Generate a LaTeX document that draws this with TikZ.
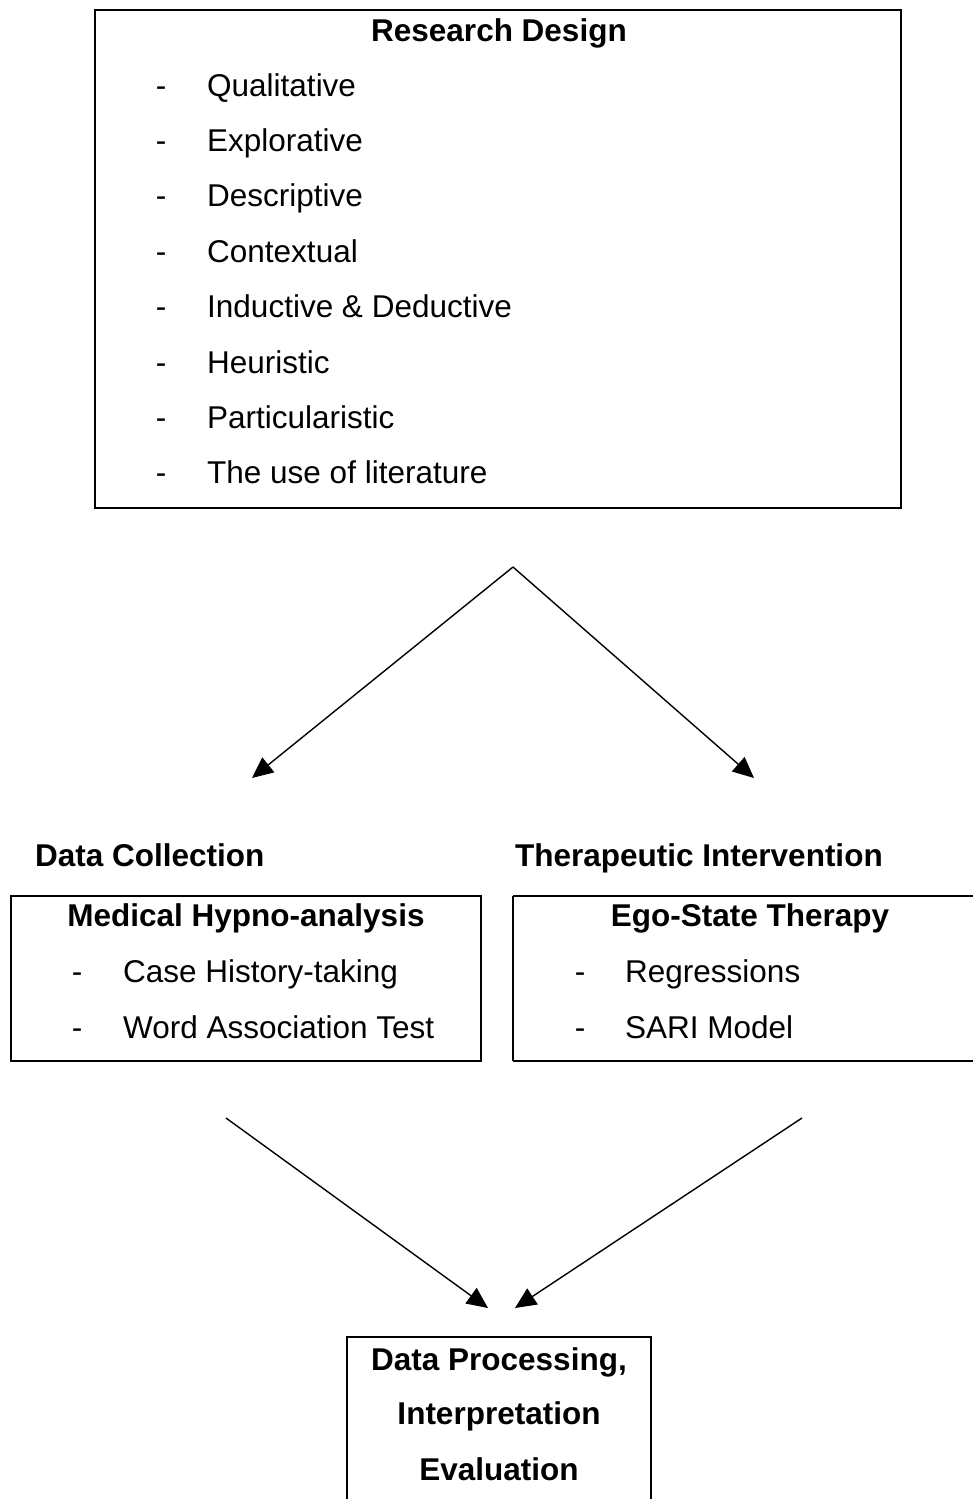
\documentclass[tikz,border=0pt]{standalone}
\usepackage{fontspec}
\setmainfont{Liberation Sans}
\usetikzlibrary{arrows.meta}
\begin{document}
\begin{tikzpicture}[x=1pt,y=-1pt,
  txt/.style={font=\fontsize{31.5}{38}\selectfont, inner sep=0pt, anchor=base west},
  ttl/.style={font=\fontsize{31.5}{38}\selectfont\bfseries, inner sep=0pt, anchor=base},
  dsh/.style={font=\fontsize{31.5}{38}\selectfont, inner sep=0pt, anchor=base},
  box/.style={draw, line width=2.3pt},
  arr/.style={-{Triangle[length=21pt,width=19pt]}, line width=1.4pt}]
\useasboundingbox (0,0) rectangle (972,1499);
% top box
\draw[box] (95,10) rectangle (901,508);
\node[ttl] (rdt) at (499,41) {Research Design};
\foreach \t [count=\i from 0] in {Qualitative,Explorative,Descriptive,Contextual,Inductive \& Deductive,Heuristic,Particularistic,The use of literature}{
  \node[dsh] (rdd\i) at (161,{96+55.4*\i}) {-};
  \node[txt] (rdi\i) at (207,{96+55.4*\i}) {\t};
}
% arrows from top
\coordinate (apex) at (513,567);
\coordinate (lend) at (252,778);
\coordinate (rend) at (754,778);
\draw[arr] (apex) -- (lend);
\draw[arr] (apex) -- (rend);
% section labels
\node[ttl, anchor=base west] (dc) at (35,866) {Data Collection};
\node[ttl, anchor=base west] (ti) at (515,866) {Therapeutic Intervention};
% left box
\draw[box] (11,896) rectangle (481,1061);
\node[ttl] (mh) at (246,926) {Medical Hypno-analysis};
\node[dsh] (mhd0) at (77,982) {-};
\node[txt] (mhi0) at (123,982) {Case History-taking};
\node[dsh] (mhd1) at (77,1038) {-};
\node[txt] (mhi1) at (123,1038) {Word Association Test};
% right box
\draw[box] (513,896) -- (990,896) (513,1061) -- (990,1061) (513,896) -- (513,1061);
\node[ttl] (es) at (750,926) {Ego-State Therapy};
\node[dsh] (esd0) at (580,982) {-};
\node[txt] (esi0) at (625,982) {Regressions};
\node[dsh] (esd1) at (580,1038) {-};
\node[txt] (esi1) at (625,1038) {SARI Model};
% bottom arrows
\coordinate (bl) at (226,1118);
\coordinate (blend) at (488,1308);
\coordinate (br) at (802,1118);
\coordinate (brend) at (515,1308);
\draw[arr] (bl) -- (blend);
\draw[arr] (br) -- (brend);
% bottom box
\draw[box] (347,1520) -- (347,1337) -- (651,1337) -- (651,1520);
\node[ttl] (dp1) at (499,1370) {Data Processing,};
\node[ttl] (dp2) at (499,1424) {Interpretation};
\node[ttl] (dp3) at (499,1480) {Evaluation};
\end{tikzpicture}
\end{document}
